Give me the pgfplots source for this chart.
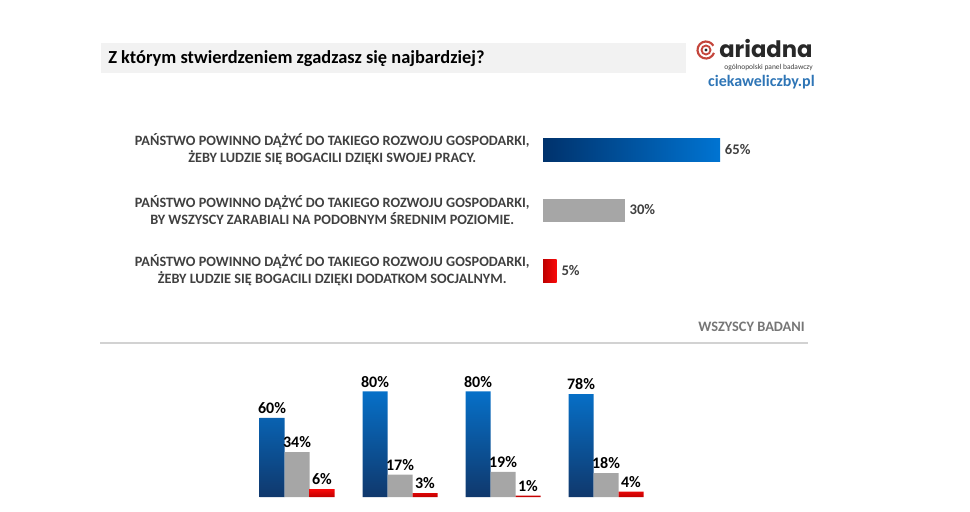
\documentclass[border=0pt]{standalone}
\usepackage{pgfplots}
\pgfplotsset{compat=1.18}
\usepackage{fontspec}
\setmainfont{Carlito}
\newfontfamily\logofont{Poppins}
\definecolor{navy}{RGB}{0,50,108}
\definecolor{brightblue}{RGB}{0,116,210}
\definecolor{barblueTop}{RGB}{6,112,200}
\definecolor{barblueBot}{RGB}{16,56,108}
\definecolor{bargray}{RGB}{166,166,166}
\definecolor{redDark}{RGB}{190,0,0}
\definecolor{redBright}{RGB}{250,10,10}
\definecolor{txtgray}{RGB}{64,64,64}
\definecolor{lblgray}{RGB}{118,118,118}
\definecolor{boxgray}{RGB}{242,242,242}
\definecolor{rulegray}{RGB}{210,210,210}
\definecolor{linkblue}{RGB}{46,117,182}
\definecolor{logored}{RGB}{196,70,60}
\definecolor{logodark}{RGB}{40,40,40}
\begin{document}
\begin{tikzpicture}
\begin{scope}[x=0.75pt,y=-0.75pt]
  \coordinate (topNW) at (543,119.25);
  \coordinate (botSW) at (245.5,497);
  % title box
  \fill[boxgray] (101,43) rectangle (686,73);
  \node[anchor=west, inner sep=0pt, font=\bfseries\fontsize{13.8}{15}\selectfont, text=black] at (108,58.5) {Z którym stwierdzeniem zgadzasz się najbardziej?};
  % logo
  \draw[logored, line width=1.6pt] (706,50) ++(20:8.5) arc[start angle=20, end angle=330, radius=8.5];
  \draw[logored, line width=1.4pt] (706,50) circle (4.5);
  \fill[logodark] (706,50) circle (1.6);
  \node[anchor=base west, inner sep=0pt, text depth=0pt, font=\logofont\bfseries\fontsize{17}{18}\selectfont, text=logodark] at (719,57.5) {ariadna};
  \node[anchor=base east, inner sep=0pt, text height=4pt, font=\fontsize{5.6}{6}\selectfont, text=txtgray] at (813,69.5) {ogólnopolski panel badawczy};
  \node[anchor=base east, inner sep=0pt, font=\bfseries\fontsize{12}{14}\selectfont, text=linkblue] at (815,86) {ciekaweliczby.pl};
  % group label and rule
  \node[anchor=east, inner sep=0pt, font=\bfseries\fontsize{10.8}{12}\selectfont, text=lblgray] at (805,326.5) {WSZYSCY BADANI};
  \draw[rulegray, line width=1.5pt] (100,342.5) -- (808,342.5);
\end{scope}

% top chart
\begin{axis}[at={(topNW)}, anchor=north west, scale only axis,
  width=142.96pt, height=136.125pt,
  xmin=0, xmax=70, ymin=-0.5, ymax=2.5, y dir=reverse,
  axis line style={draw=none}, major tick length=0pt,
  xtick=\empty, ytick={0,1,2},
  yticklabels={{PAŃSTWO POWINNO DĄŻYĆ DO TAKIEGO ROZWOJU GOSPODARKI,\\ŻEBY LUDZIE SIĘ BOGACILI DZIĘKI SWOJEJ PRACY.},
               {PAŃSTWO POWINNO DĄŻYĆ DO TAKIEGO ROZWOJU GOSPODARKI,\\BY WSZYSCY ZARABIALI NA PODOBNYM ŚREDNIM POZIOMIE.},
               {PAŃSTWO POWINNO DĄŻYĆ DO TAKIEGO ROZWOJU GOSPODARKI,\\ŻEBY LUDZIE SIĘ BOGACILI DZIĘKI DODATKOM SOCJALNYM.}},
  yticklabel style={align=center, font=\bfseries\fontsize{10.7}{12.6}\selectfont, text=txtgray, xshift=-6.5pt},
  xbar, bar width=17.25pt,
  /pgf/number format/assume math mode=true,
  nodes near coords={\pgfmathprintnumber{\pgfplotspointmeta}\%},
  nodes near coords style={font=\bfseries\fontsize{11}{12}\selectfont, text=txtgray, inner sep=3.5pt},
  clip=false]
\addplot[bar shift=0pt, draw=none, left color=navy, right color=brightblue] coordinates {(65,0)};
\addplot[bar shift=0pt, draw=none, fill=bargray] coordinates {(30,1)};
\addplot[bar shift=0pt, draw=none, left color=redDark, right color=redBright] coordinates {(5,2)};
\end{axis}

% bottom chart
\begin{axis}[at={(botSW)}, anchor=south west, scale only axis,
  width=309pt, height=99pt,
  xmin=-0.5, xmax=3.5, ymin=0, ymax=100,
  axis line style={draw=none}, major tick length=0pt,
  xtick=\empty, ytick=\empty,
  ybar, bar width=18.75pt,
  /pgf/number format/assume math mode=true,
  nodes near coords={\pgfmathprintnumber{\pgfplotspointmeta}\%},
  nodes near coords style={font=\bfseries\fontsize{12}{13}\selectfont, text=black, inner sep=3pt},
  clip=false]
\addplot[bar shift=-18.75pt, draw=none, top color=barblueTop, bottom color=barblueBot] coordinates {(0,60) (1,80) (2,80) (3,78)};
\addplot[bar shift=0pt, draw=none, fill=bargray] coordinates {(0,34) (1,17) (2,19) (3,18)};
\addplot[bar shift=18.75pt, draw=none, top color=redBright, bottom color=redDark] coordinates {(0,6) (1,3) (2,1) (3,4)};
\end{axis}

\pgfresetboundingbox
\path[use as bounding box] (0,0) rectangle (727.5pt,-383.25pt);
\end{tikzpicture}
\end{document}
